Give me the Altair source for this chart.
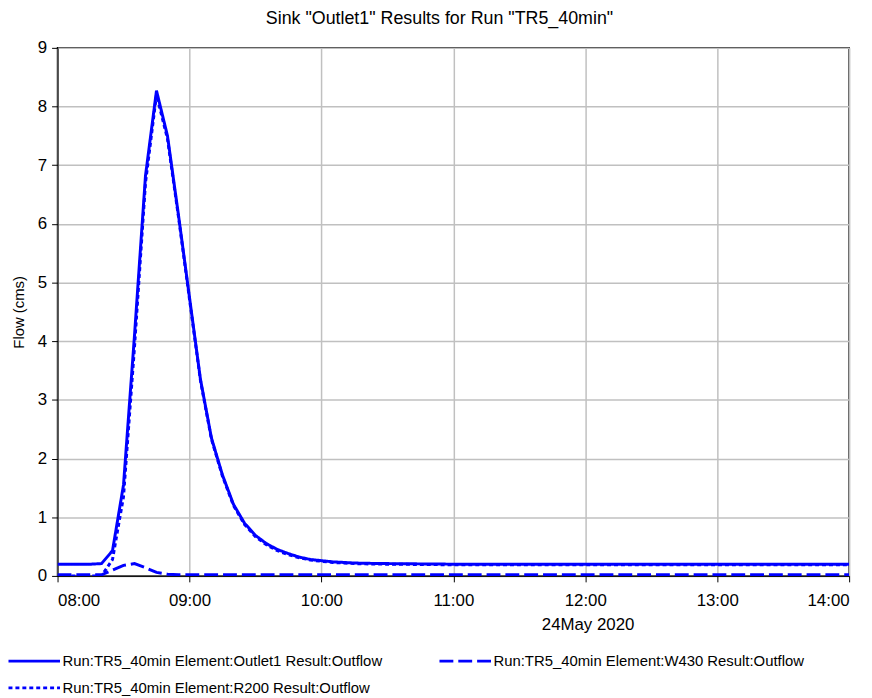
import altair as alt
import pandas as pd

FONT = "Liberation Sans, Arial, sans-serif"

series = [
    "Run:TR5_40min Element:Outlet1 Result:Outflow",
    "Run:TR5_40min Element:W430 Result:Outflow",
    "Run:TR5_40min Element:R200 Result:Outflow",
]

times = ["08:00", "08:05", "08:10", "08:15", "08:20", "08:25", "08:30", "08:35", "08:40", "08:45", "08:50", "08:55",
         "09:00", "09:05", "09:10", "09:15", "09:20", "09:25", "09:30", "09:35", "09:40", "09:45", "09:50", "09:55",
         "10:00", "10:05", "10:10", "10:15", "10:20", "10:30", "10:45", "11:00", "12:00", "13:00", "14:00"]

outlet1 = [0.20, 0.20, 0.20, 0.20, 0.21, 0.43, 1.55, 4.10, 6.82, 8.27, 7.50, 6.15,
           4.75, 3.35, 2.35, 1.72, 1.22, 0.90, 0.69, 0.55, 0.45, 0.38, 0.32, 0.28,
           0.26, 0.24, 0.23, 0.22, 0.215, 0.21, 0.205, 0.20, 0.20, 0.20, 0.20]

w430 = [0.02, 0.02, 0.02, 0.02, 0.02, 0.10, 0.18, 0.21, 0.14, 0.06, 0.03, 0.02,
        0.02, 0.02, 0.02, 0.02, 0.02, 0.02, 0.02, 0.02, 0.02, 0.02, 0.02, 0.02,
        0.02, 0.02, 0.02, 0.02, 0.02, 0.02, 0.02, 0.02, 0.02, 0.02, 0.02]

r200 = [0.0, 0.0, 0.0, 0.0, 0.0, 0.28, 1.35, 3.90, 6.70, 8.20, 7.45, 6.12,
        4.72, 3.33, 2.33, 1.70, 1.20, 0.88, 0.67, 0.53, 0.43, 0.36, 0.31, 0.27,
        0.25, 0.23, 0.22, 0.21, 0.205, 0.20, 0.195, 0.19, 0.19, 0.19, 0.19]

hour_ticks = [0, 60, 120, 180, 240, 300, 360]
y_ticks = [0, 1, 2, 3, 4, 5, 6, 7, 8, 9]


def to_minutes(t):
    h, m = t.split(":")
    return int(h) * 60 + int(m) - 8 * 60


rows = []
for name, vals in zip(series, [outlet1, w430, r200]):
    for t, v in zip(times, vals):
        rows.append({"series": name, "minutes": to_minutes(t), "flow": v})
df = pd.DataFrame(rows)

leg = alt.Legend(
    title=None, orient="none", legendX=-51, legendY=609, direction="horizontal",
    columns=2, symbolType="stroke", symbolSize=2704, symbolStrokeWidth=3,
    labelFont=FONT, labelFontSize=15, labelColor="black", labelOffset=1,
    columnPadding=56, rowPadding=7, clipHeight=20, labelLimit=600,
)

chart = alt.Chart(df).mark_line(strokeWidth=3, clip=True).encode(
    x=alt.X("minutes:Q",
            scale=alt.Scale(domain=[0, 360], nice=False, zero=False),
            axis=alt.Axis(values=hour_ticks,
                          labelExpr="(datum.value < 120 ? '0' : '') + (8 + datum.value / 60) + ':00'",
                          title="24May 2020", titleX=535, titleY=49, titleBaseline="middle",
                          titleAlign="center", titleFontSize=17, labelPadding=11, tickSize=6,
                          labelFontSize=17)),
    y=alt.Y("flow:Q",
            scale=alt.Scale(domain=[0, 9], nice=False),
            axis=alt.Axis(values=y_ticks, title="Flow (cms)", titlePadding=11, tickSize=6,
                          labelPadding=5, labelFontSize=17, titleFontSize=15)),
    color=alt.Color("series:N", scale=alt.Scale(domain=series, range=["#0000FF"] * 3), legend=leg),
    strokeDash=alt.StrokeDash("series:N",
                              scale=alt.Scale(domain=series, range=[[1, 0], [14, 5], [4, 3]]),
                              legend=leg),
).properties(
    width=799, height=533,
    autosize=alt.AutoSizeParams(type="none"),
    padding={"left": 50, "top": 37, "right": 15, "bottom": 120},
    title=alt.TitleParams('Sink "Outlet1" Results for Run "TR5_40min"', font=FONT, fontSize=18,
                          fontWeight="normal", color="black", dx=-14, offset=11),
).configure_view(
    stroke="black", strokeWidth=1.5
).configure_axis(
    gridColor="#C0C0C0", gridWidth=1.5, domainColor="black", tickColor="black",
    labelColor="black", labelFont=FONT, titleFont=FONT,
    titleFontWeight="normal", titleColor="black",
)

chart.save("out.html", embed_options={"renderer": "svg", "actions": False})
